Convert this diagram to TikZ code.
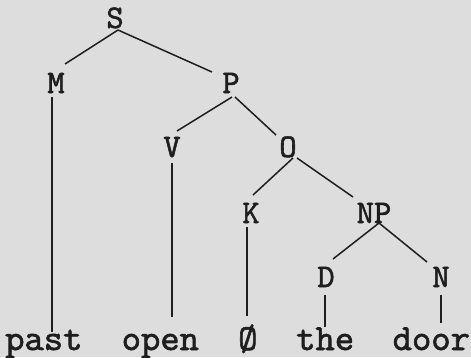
\documentclass[tikz,border=0pt]{standalone}
\usepackage{fontspec}
\newfontfamily\typew[FakeBold=1.6]{lmmono10-regular.otf}
\usetikzlibrary{calc}
\definecolor{paper}{RGB}{221,221,221}
\definecolor{ink}{RGB}{30,30,30}
\begin{document}
\begin{tikzpicture}[x=1pt,y=-1pt,
  lab/.style={anchor=base,inner sep=0pt,text=ink,font=\fontsize{33}{33}\selectfont\typew},
  word/.style={anchor=base west,inner sep=0pt,text=ink,font=\fontsize{36.8}{37}\selectfont\typew},
  branch/.style={draw=ink,line width=1.5pt}]
\fill[paper] (0,0) rectangle (471,357);
\useasboundingbox (0,0) rectangle (471,357);
% labels
\node[lab] (S)  at (115,28)  {S};
\node[lab] (M)  at (56,93)   {M};
\node[lab] (P)  at (231,93)  {P};
\node[lab] (V)  at (172,157) {V};
\node[lab] (O)  at (288,157) {O};
\node[lab] (K)  at (251,223) {K};
\node[lab] (NP) at (374,223) {NP};
\node[lab] (D)  at (326,287) {D};
\node[lab] (N)  at (441,287) {N};
% words
\node[word] (past) at (5,350)      {past};
\node[word] (open) at (121.5,350)  {open};
\node[word] (null) at (238,350)    {Ø};
\node[word] (the)  at (296,350)    {the};
\node[word] (door) at (392.5,350)  {door};
% branches
\draw[branch] ($(S.base)+(3,2)$) -- ($(M.base)+(9,-29)$);
\draw[branch] ($(S.base)+(3,2)$) -- ($(P.base)+(-19,-21)$);
\draw[branch] ($(P.base)+(1,4)$) -- ($(V.base)+(5,-26)$);
\draw[branch] ($(P.base)+(4,4)$) -- ($(O.base)+(-12,-22)$);
\draw[branch] ($(O.base)+(5,1)$) -- ($(K.base)+(2,-28)$);
\draw[branch] ($(O.base)+(9,1)$) -- ($(NP.base)+(-21,-26)$);
\draw[branch] ($(NP.base)+(5,0)$) -- ($(D.base)+(7,-28)$);
\draw[branch] ($(NP.base)+(5,0)$) -- ($(N.base)+(-14,-25)$);
% vertical lines to words
\draw[branch] ($(M.base)+(-4,4)$) -- ($(M.base |- past.base)+(-4,-18)$);
\draw[branch] ($(V.base)+(0,6)$) -- ($(V.base |- open.base)+(0,-33)$);
\draw[branch] ($(K.base)+(-4,4)$) -- ($(K.base |- null.base)+(-4,-34)$);
\draw[branch] ($(D.base)+(-1,8)$) -- ($(D.base |- the.base)+(-1,-23)$);
\draw[branch] ($(N.base)+(0,8)$) -- ($(N.base |- door.base)+(0,-27)$);
\end{tikzpicture}
\end{document}
